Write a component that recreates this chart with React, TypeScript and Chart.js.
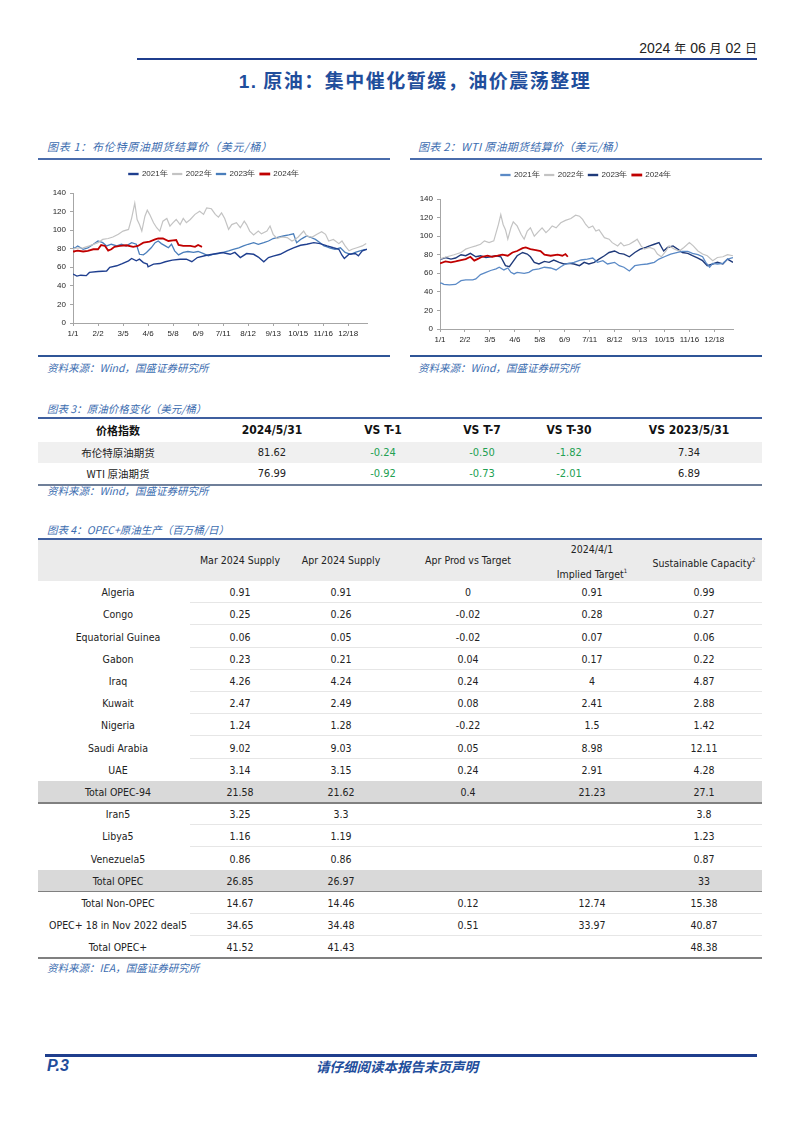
import React, { useEffect, useRef } from "react";
import { Chart, registerables } from "chart.js";

Chart.register(...registerables);

// ---------- chart data ----------
const xTickDays = [0, 32, 64, 96, 128, 160, 192, 224, 256, 288, 320, 352];
const xTickLabels = ["1/1", "2/2", "3/5", "4/6", "5/8", "6/9", "7/11", "8/12", "9/13", "10/15", "11/16", "12/18"];
const yearLabels = ["2021年", "2022年", "2023年", "2024年"];

type P = [number, number];

const brent2021: P[] = [[0,52.7],[5,50.5],[10,51.5],[17,51],[21,54.5],[32,55.5],[43,56],[47,60],[56,61.6],[63,64],[71,67],[75,69.5],[81,67],[85,68.7],[90,65],[95,63.4],[96,60.5],[103,63.4],[111,64],[118,66],[127,67.7],[137,68.7],[145,68.7],[152,66],[159,70.5],[171,73],[184,74.8],[191,75.9],[201,74],[207,76],[214,70.5],[222,74.8],[231,74],[237,71],[244,66],[250,70.5],[256,72],[265,74],[274,78],[282,81],[291,83.7],[299,84.8],[308,86.5],[316,85.5],[325,83],[333,81],[340,79.4],[344,73],[347,69.5],[353,74],[361,74.8],[365,72.3],[370,77.7],[376,79.4]];
const brent2022: P[] = [[0,78.5],[2,80.5],[13,81],[21,83],[32,86.5],[38,90],[45,91],[51,92.6],[58,95.5],[64,99],[71,100.8],[75,113],[79,129],[82,111.5],[85,106],[88,99],[92,115],[95,121.5],[98,117],[103,108],[107,102.6],[111,99],[115,109.7],[120,112.6],[124,104.4],[128,108],[132,111.5],[137,106],[141,112.6],[145,108],[150,111.5],[156,117],[162,120.4],[167,117],[171,124],[177,123],[182,117],[186,114],[190,118.6],[194,112.6],[199,100.8],[203,106],[209,108],[214,102.6],[219,109.7],[222,106],[226,99],[231,94.8],[237,99],[241,96],[248,99],[252,104.4],[256,95.5],[261,91],[267,92.6],[274,92],[280,88.3],[284,90],[288,92.6],[295,99],[299,93.7],[306,92.6],[312,95.5],[318,98.3],[323,95.5],[327,88.3],[333,90],[340,85.5],[344,88.3],[348,83],[353,77.7],[357,79.4],[363,81],[370,83],[375,85.5]];
const brent2023: P[] = [[0,82],[2,80.5],[6,83],[13,79.4],[19,81],[26,84.8],[32,88.3],[38,86.5],[43,83],[49,84.8],[56,83],[62,84.8],[68,83],[75,86.5],[81,84.8],[85,74],[90,73.4],[94,76],[100,81],[105,86.5],[109,88.3],[113,85.5],[118,83],[122,81],[126,84.8],[130,77.7],[135,73.4],[141,76],[147,77],[154,76],[160,77],[167,74.8],[173,72.3],[179,74],[186,74.8],[192,76],[199,77.7],[205,79.4],[212,81],[218,83],[224,84.8],[231,86.5],[237,84.8],[244,86.5],[250,88.3],[256,91],[263,92.6],[269,93.7],[276,94.8],[282,96],[286,86.5],[291,90],[295,92],[299,93.7],[303,92.6],[310,90],[316,86.5],[321,83],[325,82],[329,80.5],[335,79.4],[342,81],[348,76],[355,74],[361,76],[368,78],[374,79.4]];
const brent2024: P[] = [[0,77.5],[1,77],[6,78],[13,77],[19,77.7],[26,79.4],[32,79.4],[36,84],[41,83],[45,78],[49,79.4],[53,82],[60,83],[68,83.7],[77,82],[83,83],[90,86.5],[98,87.6],[105,90],[109,91],[115,91],[122,88.3],[128,89],[132,89.4],[135,84],[141,83],[150,83],[156,82],[160,84],[165,82]];

const wti2021: P[] = [[0,49.4],[2,49.4],[5,48],[12,47.6],[20,48],[27,52],[33,53],[42,53],[46,54],[52,58.6],[59,61],[65,63],[72,64.7],[76,66.5],[82,63.6],[87,65.7],[91,61],[95,59.3],[99,61],[108,60],[114,61],[119,63.6],[127,64.7],[134,66.5],[142,65.7],[149,63.6],[155,67],[161,70],[172,71.8],[181,74.3],[189,75.3],[196,76.4],[202,71.8],[209,73.6],[215,70],[224,71.8],[230,68.2],[236,66.5],[243,62.5],[250,68.2],[258,69.3],[266,70],[275,71.8],[281,75.3],[288,77.8],[296,80.7],[305,82.4],[311,83.5],[318,83.5],[324,81.4],[331,80],[337,77.8],[341,71.8],[346,66.5],[350,70.7],[356,70],[363,70.7],[369,75.3],[376,77]];
const wti2022: P[] = [[0,75.5],[2,76],[9,77.8],[18,80],[27,82.4],[33,86],[39,87.8],[46,89.5],[52,91.3],[57,94.9],[63,93],[69,94.9],[75,112.6],[78,123.3],[81,112.6],[84,107],[87,96.7],[91,109],[94,115.5],[99,111],[104,102],[108,96.7],[112,105.5],[116,109],[121,100],[127,105.5],[131,109],[136,103.8],[140,107],[144,111],[149,109],[155,114.4],[161,117],[168,119],[174,122.6],[179,121.5],[183,118],[187,112.6],[191,109],[196,111],[200,105.5],[204,107],[211,98.4],[217,96.7],[221,93],[228,89.5],[232,93],[236,89.5],[243,91.3],[250,94.9],[253,96.7],[258,89.5],[262,86],[269,87.8],[275,86],[279,80.7],[284,77.8],[290,84],[294,89.5],[301,86],[307,84],[313,87.8],[320,93],[325,89.5],[331,84],[337,80.7],[343,78.9],[350,73.6],[356,77],[363,77.8],[369,80],[376,78.9]];
const wti2023: P[] = [[0,76],[2,75.3],[7,77],[14,75.3],[20,76.4],[27,80],[33,78.9],[39,81.4],[46,77.8],[52,78.9],[59,77],[65,77.8],[72,78.9],[78,77.8],[84,68.2],[89,67.2],[93,71.8],[99,78.9],[106,82.4],[112,80.7],[116,77.8],[121,71.8],[127,70],[134,72.8],[140,71.8],[146,74.3],[153,71.8],[159,70],[166,70.7],[172,70],[179,68.2],[185,71.8],[191,70],[198,71.8],[204,75.3],[211,78.9],[217,82.4],[224,84],[230,81.4],[236,80.7],[243,77.8],[250,82.4],[257,86],[264,87.8],[269,89.5],[275,91.3],[281,93],[287,84],[292,87.8],[299,89.5],[305,86],[311,82.4],[318,81.4],[324,78.9],[331,76.4],[337,73.6],[343,68.2],[350,70],[356,71.8],[363,70],[369,75.3],[376,71.8]];
const wti2024: P[] = [[0,70.7],[7,72.8],[14,71.8],[20,72.8],[27,74.3],[33,75.3],[39,77.8],[44,73.6],[48,75.3],[54,77.8],[61,78.9],[67,77.8],[74,78.9],[80,80],[87,78.9],[93,82.4],[99,84],[106,87],[110,87.8],[116,86],[123,85],[129,84],[134,80],[142,78.9],[151,80],[157,78.9],[161,80.7],[164,77.8]];

// ---------- table data ----------
const priceNames = ["布伦特原油期货", "WTI 原油期货"];
const priceLatest = [81.62, 76.99];
const priceVsT1 = [-0.24, -0.92];
const priceVsT7 = [-0.5, -0.73];
const priceVsT30 = [-1.82, -2.01];
const priceVsYoY = [7.34, 6.89];

const opecNames = ["Algeria","Congo","Equatorial Guinea","Gabon","Iraq","Kuwait","Nigeria","Saudi Arabia","UAE","Total OPEC-94","Iran5","Libya5","Venezuela5","Total OPEC","Total Non-OPEC","OPEC+ 18 in Nov 2022 deal5","Total OPEC+"];
const opecMar = [0.91,0.25,0.06,0.23,4.26,2.47,1.24,9.02,3.14,21.58,3.25,1.16,0.86,26.85,14.67,34.65,41.52];
const opecApr = [0.91,0.26,0.05,0.21,4.24,2.49,1.28,9.03,3.15,21.62,3.3,1.19,0.86,26.97,14.46,34.48,41.43];
const opecVsTarget = [0,-0.02,-0.02,0.04,0.24,0.08,-0.22,0.05,0.24,0.4,null,null,null,null,0.12,0.51,null];
const opecImplied = [0.91,0.28,0.07,0.17,4,2.41,1.5,8.98,2.91,21.23,null,null,null,null,12.74,33.97,null];
const opecCapacity = [0.99,0.27,0.06,0.22,4.87,2.88,1.42,12.11,4.28,27.1,3.8,1.23,0.87,33,15.38,40.87,48.38];
const opecTotalRows = [9, 13];

// ---------- styles ----------
const BLUE = "#1f4e9c";
const NAVY = "#1f3e8d";
const CAP = "#3c6db0";
const SANS = "'Liberation Sans', Arial, sans-serif";
const CJK = "'Noto Sans CJK SC', 'Noto Sans', sans-serif";
const TBL = "'DejaVu Sans Condensed', 'DejaVu Sans', sans-serif";

type Series = { label: string; data: P[]; color: string; width: number; top?: boolean };

type LineChartProps = {
  left: number; top: number; width: number; height: number;
  series: Series[];
  yAxisWidth: number; rightGap: number; padTop: number; legendExtra: number; xAxisHeight: number;
};

function LineChart(props: LineChartProps) {
  const ref = useRef<HTMLCanvasElement | null>(null);
  useEffect(() => {
    if (!ref.current) return;
    const axisColor = "#a6a6a6";
    const tickFont = { family: SANS, size: 8 };
    const spacer = {
      id: "legendSpacer",
      beforeInit(chart: any) {
        const lg = chart.legend;
        if (lg && !lg.__patched) {
          const orig = lg.fit;
          lg.fit = function () { orig.call(this); this.height += props.legendExtra; };
          lg.__patched = true;
        }
      },
    };
    const chart = new Chart(ref.current, {
      type: "line",
      data: {
        datasets: props.series.map((s) => ({
          label: s.label,
          data: s.data.map(([x, y]) => ({ x, y })),
          borderColor: s.color,
          backgroundColor: s.color,
          borderWidth: s.width,
          pointRadius: 0,
          tension: 0,
          fill: false,
          order: s.top ? -1 : 0,
        })),
      },
      options: {
        animation: false,
        responsive: false,
        layout: { padding: { top: props.padTop, left: 0, right: 0, bottom: 0 } },
        plugins: {
          tooltip: { enabled: false },
          legend: {
            display: true,
            position: "top",
            labels: {
              boxWidth: 9,
              boxHeight: 1,
              padding: 5,
              color: "#333",
              font: { family: SANS, size: 8 },
              sort: (a: any, b: any) => a.datasetIndex - b.datasetIndex,
            },
          },
        },
        scales: {
          x: {
            type: "linear",
            min: 0,
            max: 376,
            afterBuildTicks: (axis: any) => { axis.ticks = xTickDays.map((v) => ({ value: v })); },
            afterFit: (axis: any) => { axis.height = props.xAxisHeight; },
            ticks: {
              autoSkip: false, maxRotation: 0, minRotation: 0, padding: 3,
              color: "#262626", font: tickFont,
              callback: (_v: any, i: number) => xTickLabels[i],
            },
            grid: { display: true, drawOnChartArea: false, drawTicks: true, tickLength: 3, color: axisColor },
            border: { display: true, color: axisColor, width: 1 },
          },
          y: {
            min: 0, max: 140,
            afterFit: (axis: any) => { axis.width = props.yAxisWidth; },
            ticks: { stepSize: 20, padding: 4, color: "#262626", font: tickFont },
            grid: { display: true, drawOnChartArea: false, drawTicks: true, tickLength: 3, color: axisColor },
            border: { display: true, color: axisColor, width: 1 },
          },
          yr: {
            position: "right",
            display: true,
            afterFit: (axis: any) => { axis.width = props.rightGap; },
            ticks: { display: false },
            grid: { display: false },
            border: { display: false },
          },
        },
      } as any,
      plugins: [spacer],
    });
    return () => chart.destroy();
  }, []);
  return (
    <canvas
      ref={ref}
      width={props.width}
      height={props.height}
      style={{ position: "absolute", left: props.left, top: props.top, width: props.width, height: props.height }}
    />
  );
}

function Txt(p: { x: number; y: number; w?: number; h?: number; align?: "left" | "center" | "right"; style?: React.CSSProperties; children: React.ReactNode }) {
  const w = p.w ?? 200;
  const h = p.h ?? 16;
  const align = p.align ?? "center";
  const left = align === "center" ? p.x - w / 2 : align === "right" ? p.x - w : p.x;
  return (
    <div style={{ position: "absolute", left, top: p.y - h / 2, width: w, height: h, lineHeight: h + "px", textAlign: align, whiteSpace: "nowrap", ...p.style }}>
      {p.children}
    </div>
  );
}

function Rule(p: { x: number; y: number; w: number; h: number; c: string }) {
  return <div style={{ position: "absolute", left: p.x, top: p.y, width: p.w, height: p.h, background: p.c }} />;
}

const capStyle: React.CSSProperties = { fontFamily: CJK, fontStyle: "italic", color: CAP, fontSize: 10.5 };

const fmt2 = (v: number) => v.toFixed(2);
const fmtRaw = (v: number | null) => (v === null ? "" : String(v));

export default function App() {
  const brentSeries: Series[] = [
    { label: yearLabels[0], data: brent2021, color: "#1f3f8f", width: 1.4 },
    { label: yearLabels[1], data: brent2022, color: "#c3c3c3", width: 1.2 },
    { label: yearLabels[2], data: brent2023, color: "#4a7ebb", width: 1.3 },
    { label: yearLabels[3], data: brent2024, color: "#c00000", width: 1.8, top: true },
  ];
  const wtiSeries: Series[] = [
    { label: yearLabels[0], data: wti2021, color: "#5b8ac6", width: 1.3 },
    { label: yearLabels[1], data: wti2022, color: "#c3c3c3", width: 1.2 },
    { label: yearLabels[2], data: wti2023, color: "#1f3a7a", width: 1.4 },
    { label: yearLabels[3], data: wti2024, color: "#c00000", width: 1.8, top: true },
  ];

  const t3cols = [118, 272, 383, 482, 569, 689];
  const t3head = ["价格指数", "2024/5/31", "VS T-1", "VS T-7", "VS T-30", "VS 2023/5/31"];
  const GREEN = "#22a052";

  const t4cols = [118, 240, 341, 468, 592, 704];
  const rowTop = 581;
  const rowH = 22.2;

  const tblText: React.CSSProperties = { fontFamily: TBL, fontSize: 10.5, color: "#222" };

  return (
    <div style={{ position: "absolute", left: 0, top: 0, width: 802, height: 1133, background: "#fff", overflow: "hidden", fontFamily: SANS }}>
      {/* header */}
      <Txt x={757} y={48} w={240} h={18} align="right" style={{ fontFamily: SANS, fontSize: 14, color: "#222" }}>
        2024 <span style={{ fontFamily: CJK, fontSize: 12 }}>年</span> 06 <span style={{ fontFamily: CJK, fontSize: 12 }}>月</span> 02 <span style={{ fontFamily: CJK, fontSize: 12 }}>日</span>
      </Txt>
      <Rule x={137} y={58} w={620} h={2} c={NAVY} />
      <Txt x={415} y={80} w={420} h={24} style={{ fontFamily: CJK, fontSize: 19, fontWeight: 700, color: BLUE, letterSpacing: 1.5 }}>
        <span style={{ fontFamily: SANS }}>1.</span> 原油：集中催化暂缓，油价震荡整理
      </Txt>

      {/* chart 1 */}
      <Txt x={47} y={146} w={340} h={14} align="left" style={{ ...capStyle, fontSize: 11, letterSpacing: 0.7 }}>图表 1：布伦特原油期货结算价（美元/桶）</Txt>
      <Rule x={38} y={158} w={352} h={1.5} c="#4a6cab" />
      <LineChart left={38} top={160} width={352} height={186} series={brentSeries}
        yAxisWidth={35} rightGap={23} padTop={5} legendExtra={5} xAxisHeight={23} />
      <Rule x={38} y={355} w={352} h={1.5} c="#2f5597" />
      <Txt x={47} y={368} w={340} h={14} align="left" style={capStyle}>资料来源：Wind，国盛证券研究所</Txt>

      {/* chart 2 */}
      <Txt x={418} y={146} w={340} h={14} align="left" style={{ ...capStyle, fontSize: 11, letterSpacing: 0.3 }}>图表 2：WTI 原油期货结算价（美元/桶）</Txt>
      <Rule x={410} y={158} w={352} h={1.5} c="#4a6cab" />
      <LineChart left={410} top={160} width={352} height={186} series={wtiSeries}
        yAxisWidth={30} rightGap={29} padTop={6} legendExtra={10} xAxisHeight={17} />
      <Rule x={410} y={355} w={352} h={1.5} c="#2f5597" />
      <Txt x={418} y={368} w={340} h={14} align="left" style={capStyle}>资料来源：Wind，国盛证券研究所</Txt>

      {/* table 3 */}
      <Txt x={47} y={409} w={340} h={14} align="left" style={capStyle}>图表 3：原油价格变化（美元/桶）</Txt>
      <Rule x={38} y={417} w={724} h={1.5} c="#3f5f9f" />
      {t3head.map((h, i) => (
        <Txt key={"h" + i} x={t3cols[i]} y={430} w={150} style={{ fontFamily: i === 0 ? CJK : TBL, fontSize: i === 0 ? 11 : 12, fontWeight: 700, color: "#111" }}>{h}</Txt>
      ))}
      <Rule x={38} y={442} w={724} h={21} c="#f0f0f0" />
      {priceNames.map((name, r) => {
        const cy = 452.5 + r * 21;
        const vals = [priceVsT1[r], priceVsT7[r], priceVsT30[r]];
        return (
          <React.Fragment key={"p" + r}>
            <Txt x={t3cols[0]} y={cy} w={150} style={{ fontFamily: CJK, fontSize: 10.5, color: "#222" }}>{name}</Txt>
            <Txt x={t3cols[1]} y={cy} w={120} style={{ ...tblText, fontSize: 11 }}>{fmt2(priceLatest[r])}</Txt>
            {vals.map((v, k) => (
              <Txt key={k} x={t3cols[2 + k]} y={cy} w={100} style={{ ...tblText, fontSize: 11, color: v < 0 ? GREEN : "#c00000" }}>{fmt2(v)}</Txt>
            ))}
            <Txt x={t3cols[5]} y={cy} w={120} style={{ ...tblText, fontSize: 11 }}>{fmt2(priceVsYoY[r])}</Txt>
          </React.Fragment>
        );
      })}
      <Rule x={38} y={484} w={724} h={1.5} c="#6f7f99" />
      <Txt x={47} y={491} w={340} h={14} align="left" style={capStyle}>资料来源：Wind，国盛证券研究所</Txt>

      {/* table 4 */}
      <Txt x={47} y={530} w={340} h={14} align="left" style={capStyle}>图表 4：OPEC+原油生产（百万桶/日）</Txt>
      <Rule x={38} y={538} w={724} h={1.5} c="#3f5f9f" />
      <Rule x={38} y={539.5} w={724} h={41} c="#ebebeb" />
      <Txt x={t4cols[1]} y={560} w={110} style={tblText}>Mar 2024 Supply</Txt>
      <Txt x={t4cols[2]} y={560} w={110} style={tblText}>Apr 2024 Supply</Txt>
      <Txt x={t4cols[3]} y={560} w={130} style={tblText}>Apr Prod vs Target</Txt>
      <Txt x={t4cols[4]} y={549} w={130} style={tblText}>2024/4/1</Txt>
      <Txt x={t4cols[4]} y={571} w={130} style={tblText}>Implied Target<sup style={{ fontSize: 6 }}>1</sup></Txt>
      <Txt x={t4cols[5]} y={560} w={130} style={tblText}>Sustainable Capacity<sup style={{ fontSize: 6 }}>2</sup></Txt>
      {opecNames.map((name, r) => {
        const top = rowTop + r * rowH;
        const cy = top + rowH / 2;
        const isTotal = opecTotalRows.includes(r);
        const isLast = r === opecNames.length - 1;
        const cells = [fmtRaw(opecMar[r]), fmtRaw(opecApr[r]), fmtRaw(opecVsTarget[r]), fmtRaw(opecImplied[r]), fmtRaw(opecCapacity[r])];
        return (
          <React.Fragment key={"o" + r}>
            {isTotal && <Rule x={38} y={top} w={724} h={rowH} c="#d9d9d9" />}
            {isTotal || isLast ? (
              <Rule x={38} y={top + rowH - 1} w={724} h={1.5} c="#808080" />
            ) : (
              opecTotalRows.includes(r + 1) ? null : <Rule x={190} y={top + rowH - 1} w={572} h={1} c="#e6e6e6" />
            )}
            <Txt x={t4cols[0]} y={cy} w={170} style={tblText}>{name}</Txt>
            {cells.map((c, k) => (
              <Txt key={k} x={t4cols[k + 1]} y={cy} w={100} style={tblText}>{c}</Txt>
            ))}
          </React.Fragment>
        );
      })}
      <Txt x={47} y={968} w={340} h={14} align="left" style={capStyle}>资料来源：IEA，国盛证券研究所</Txt>

      {/* footer */}
      <Rule x={45} y={1054} w={712} h={2.5} c={NAVY} />
      <Txt x={47} y={1066} w={60} h={20} align="left" style={{ fontFamily: SANS, fontSize: 16, fontWeight: 700, fontStyle: "italic", color: BLUE }}>P.3</Txt>
      <Txt x={397} y={1066} w={260} h={18} style={{ fontFamily: CJK, fontSize: 13.5, fontWeight: 700, fontStyle: "italic", color: BLUE }}>请仔细阅读本报告末页声明</Txt>
    </div>
  );
}
